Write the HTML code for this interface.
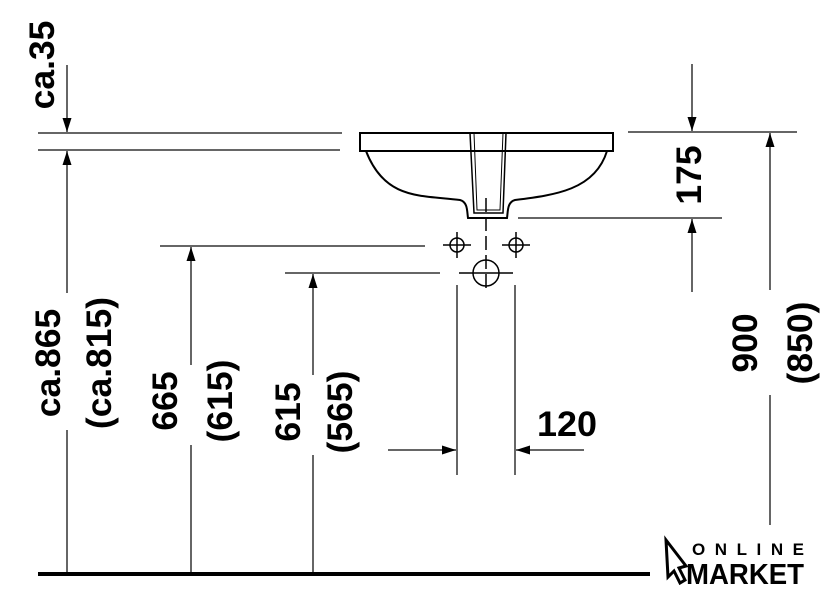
<!DOCTYPE html>
<html><head><meta charset="utf-8"><style>
html,body{margin:0;padding:0;background:#fff;}
svg{display:block}
text{font-family:"Liberation Sans",Arial,sans-serif;font-weight:bold;font-size:35.5px;fill:#000}
</style></head><body>
<svg width="840" height="598" viewBox="0 0 840 598" xmlns="http://www.w3.org/2000/svg">
<defs>
<marker id="a" viewBox="0 0 14 9" refX="14" refY="4.5" markerWidth="14" markerHeight="9" markerUnits="userSpaceOnUse" orient="auto"><path d="M0,0 L14,4.5 L0,9 Z" fill="#000"/></marker>
</defs>
<g stroke="#333" stroke-width="1.5" fill="none">
<line x1="38" y1="133" x2="342" y2="133"/>
<line x1="38" y1="150" x2="340" y2="150"/>
<line x1="160" y1="246" x2="425" y2="246"/>
<line x1="285" y1="273" x2="440" y2="273"/>
<line x1="67" y1="65" x2="67" y2="132" marker-end="url(#a)"/>
<line x1="67" y1="293" x2="67" y2="151" marker-end="url(#a)"/>
<line x1="67" y1="430" x2="67" y2="573"/>
<line x1="191" y1="365" x2="191" y2="247" marker-end="url(#a)"/>
<line x1="191" y1="445" x2="191" y2="573"/>
<line x1="313" y1="375" x2="313" y2="274" marker-end="url(#a)"/>
<line x1="313" y1="455" x2="313" y2="573"/>
<line x1="628" y1="132" x2="797" y2="132"/>
<line x1="518" y1="218" x2="722" y2="218"/>
<line x1="692" y1="64" x2="692" y2="131" marker-end="url(#a)"/>
<line x1="692" y1="292" x2="692" y2="219" marker-end="url(#a)"/>
<line x1="770" y1="290" x2="770" y2="133" marker-end="url(#a)"/>
<line x1="770" y1="395" x2="770" y2="525"/>
<line x1="457" y1="285" x2="457" y2="475"/>
<line x1="515" y1="285" x2="515" y2="475"/>
<line x1="388" y1="450" x2="456" y2="450" marker-end="url(#a)"/>
<line x1="584" y1="450" x2="516" y2="450" marker-end="url(#a)"/>
</g>
<g stroke="#000" stroke-width="2" fill="none">
<rect x="360" y="133" width="253" height="18"/>
<path d="M366,151 C385,200 420,195 460,200 C468,202 467,212 468,218 L507,218 C508,212 507,202 515,200 C555,195 595,190 607,151"/>
<path d="M470,133 L474,213 L503,213 L506,133" stroke-width="1.5"/>
<path d="M474,133 L477,210 L500,210 L503,133" stroke-width="1"/>
</g>
<g stroke="#000" stroke-width="1.5" fill="none">
<circle cx="457" cy="245" r="7"/>
<circle cx="516" cy="245" r="7"/>
<circle cx="486" cy="273" r="13"/>
<line x1="443" y1="245" x2="471" y2="245"/>
<line x1="502" y1="245" x2="530" y2="245"/>
<line x1="459" y1="273" x2="513" y2="273"/>
<line x1="486" y1="198" x2="486" y2="290" stroke-dasharray="14,5"/>
<line x1="457" y1="232" x2="457" y2="258"/>
<line x1="516" y1="232" x2="516" y2="258"/>
</g>
<line x1="38" y1="574" x2="650" y2="574" stroke="#000" stroke-width="4"/>
<g text-anchor="middle" dominant-baseline="central">
<text transform="translate(42,65) rotate(-90)">ca.35</text>
<text transform="translate(48,363) rotate(-90)">ca.865</text>
<text transform="translate(99,363) rotate(-90)">(ca.815)</text>
<text transform="translate(165,401) rotate(-90)">665</text>
<text transform="translate(220,401) rotate(-90)">(615)</text>
<text transform="translate(288,412) rotate(-90)">615</text>
<text transform="translate(340,412) rotate(-90)">(565)</text>
<text transform="translate(689,175) rotate(-90)">175</text>
<text transform="translate(745,343) rotate(-90)">900</text>
<text transform="translate(800,343) rotate(-90)">(850)</text>
</g>
<text x="537" y="436" textLength="60" lengthAdjust="spacingAndGlyphs">120</text>
<path d="M666,540 L686,566 L679,568 L685,580 L680,583 L674,571 L668,577 Z" fill="#fff" stroke="#000" stroke-width="3"/>
<text x="692" y="555" style="font-size:17px;font-weight:900" textLength="112" lengthAdjust="spacing">ONLINE</text>
<text x="686" y="584" style="font-size:29px;font-weight:900" textLength="118" lengthAdjust="spacingAndGlyphs">MARKET</text>
</svg>
</body></html>
